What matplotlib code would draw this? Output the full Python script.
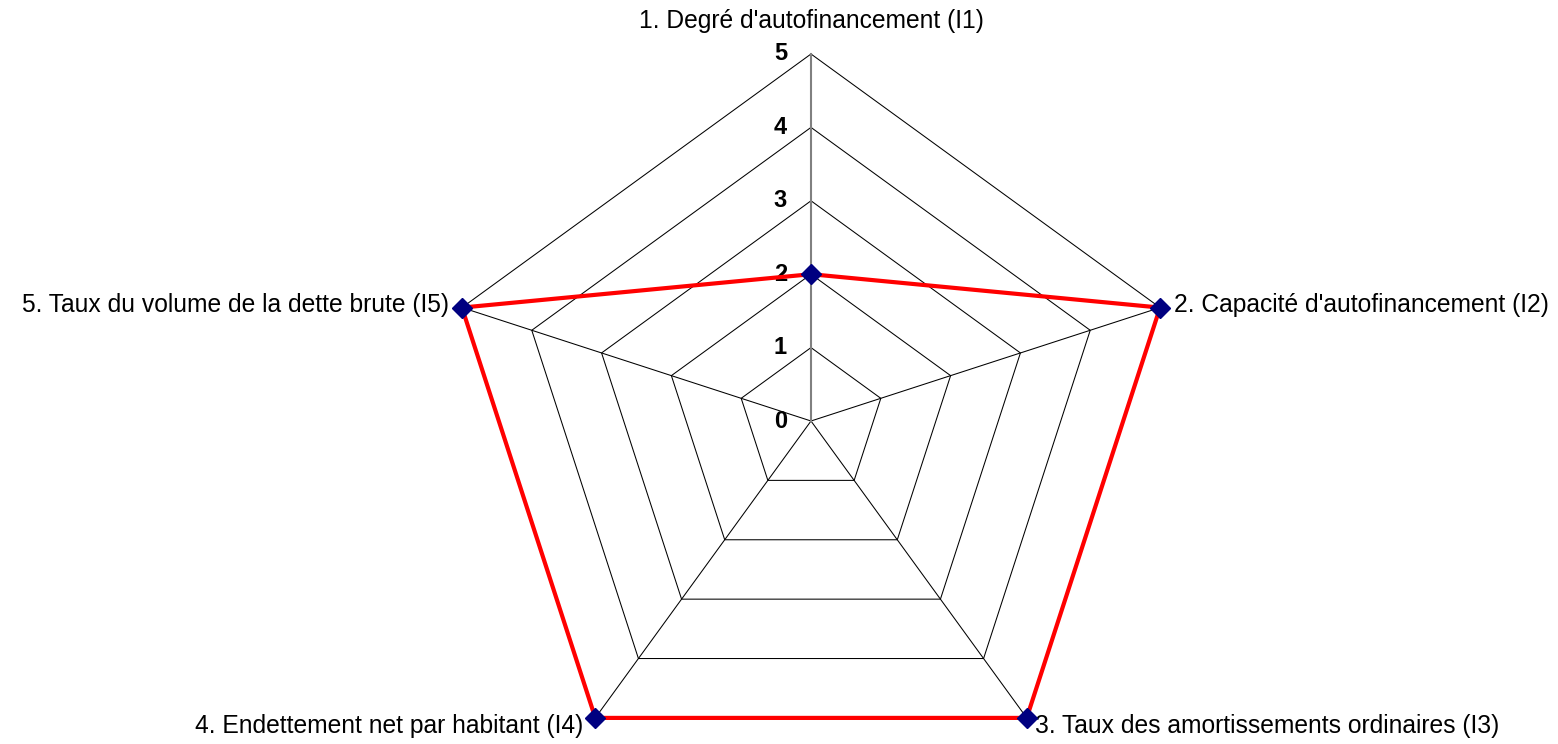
import numpy as np
import matplotlib.pyplot as plt

plt.rcParams['font.family'] = ['Liberation Sans', 'DejaVu Sans']

# Données
labels = [
    "1. Degré d'autofinancement (I1)",
    "2. Capacité d'autofinancement (I2)",
    "3. Taux des amortissements ordinaires (I3)",
    "4. Endettement net par habitant (I4)",
    "5. Taux du volume de la dette brute (I5)",
]
values = [2, 5, 5, 5, 5]
ticks = [0, 1, 2, 3, 4, 5]

n = len(labels)
angles = np.deg2rad(90 - 72 * np.arange(n))
ca, sa = np.cos(angles), np.sin(angles)

fig = plt.figure(figsize=(15.58, 7.44), dpi=100)
ax = fig.add_axes([0, 0, 1, 1])
unit = 73.4
cx, cy = 811, 421
ax.set_xlim(-cx / unit, (1558 - cx) / unit)
ax.set_ylim(-(744 - cy) / unit, cy / unit)
ax.axis("off")

# Grille pentagonale
for t in ticks[1:]:
    ax.plot(np.append(t * ca, t * ca[0]), np.append(t * sa, t * sa[0]),
            color="black", lw=0.75, zorder=1)
# Rayons
rmax = ticks[-1]
for i in range(1, n):
    ax.plot([0, rmax * ca[i]], [0, rmax * sa[i]], color="black", lw=0.75, zorder=1)
ax.plot([0, 0], [0, rmax], color="#808080", lw=1.5, zorder=2)

# Étiquettes de valeurs
for t in ticks:
    ax.text(-24 / unit, t, str(t), ha="right", va="center",
            fontsize=17, fontweight="bold", zorder=3)

# Série
v = np.array(values, dtype=float)
ax.plot(np.append(v * ca, v[0] * ca[0]), np.append(v * sa, v[0] * sa[0]),
        color="#ff0000", lw=3, zorder=4)
ax.plot(v * ca, v * sa, ls="none", marker="D", ms=10, color="#000080",
        markeredgecolor="#000080", zorder=5)

# Étiquettes des axes
fs = 17.7
px = 1 / unit
ax.text(0, rmax + 33 * px, labels[0], ha="center", va="center", fontsize=fs)
ax.text(rmax * ca[1] + 14 * px, rmax * sa[1] + 3 * px, labels[1], ha="left", va="center", fontsize=fs)
ax.text(rmax * ca[2] + 8 * px, rmax * sa[2] - 8 * px, labels[2], ha="left", va="center", fontsize=fs)
ax.text(rmax * ca[3] - 12 * px, rmax * sa[3] - 8 * px, labels[3], ha="right", va="center", fontsize=fs)
ax.text(rmax * ca[4] - 13 * px, rmax * sa[4] + 3 * px, labels[4], ha="right", va="center", fontsize=fs)

fig.savefig("out.png", dpi=100)
plt.close(fig)
